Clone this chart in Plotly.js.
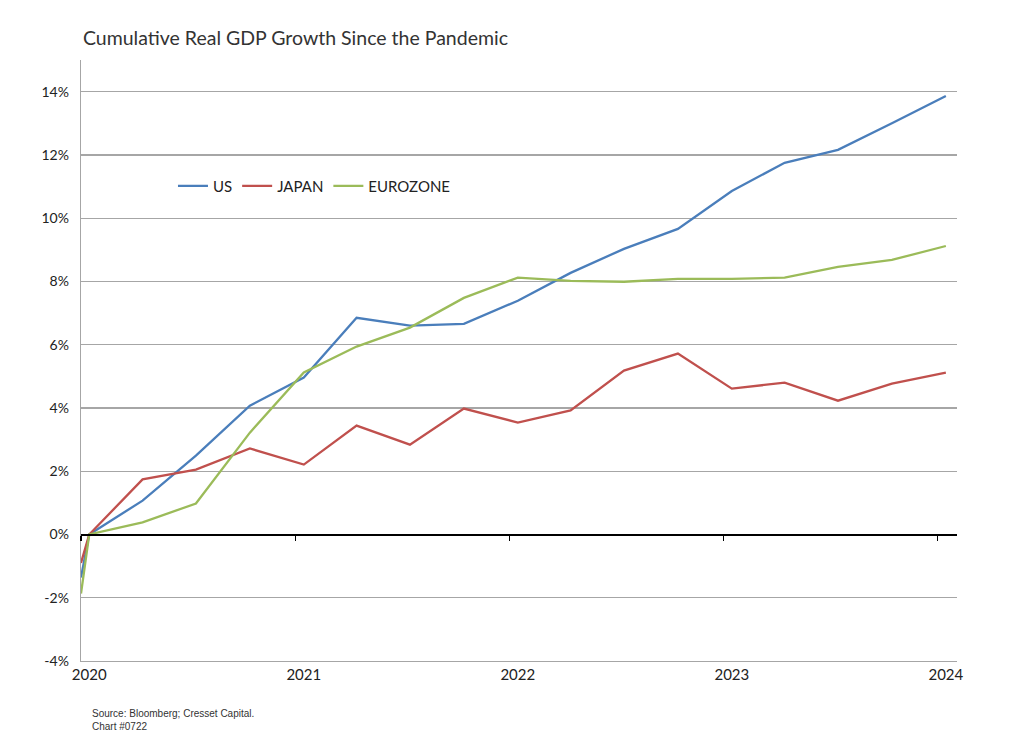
<!DOCTYPE html>
<html>
<head>
<meta charset="utf-8">
<script src="https://cdn.plot.ly/plotly-3.0.1.min.js"></script>
<style>html,body{margin:0;padding:0;background:#fff;}#chart{width:1024px;height:743px;}</style>
</head>
<body>
<div id="chart"></div>
<script>
const dates = ["2020-01-01","2020-01-15","2020-04-15","2020-07-15","2020-10-15","2021-01-15","2021-04-15","2021-07-15","2021-10-15","2022-01-15","2022-04-15","2022-07-15","2022-10-15","2023-01-15","2023-04-15","2023-07-15","2023-10-15","2024-01-15"];
const us = [-1.36,0,1.07,2.49,4.07,4.96,6.85,6.6,6.66,7.39,8.27,9.03,9.66,10.86,11.75,12.16,13.0,13.86];
const japan = [-0.9,0,1.74,2.05,2.72,2.21,3.44,2.84,3.98,3.54,3.92,5.18,5.72,4.61,4.8,4.23,4.77,5.12];
const eurozone = [-1.87,0,0.38,0.98,3.22,5.12,5.94,6.54,7.48,8.12,8.02,7.99,8.08,8.08,8.12,8.46,8.68,9.12];
const yearLabelDates = ["2020-01-15","2021-01-15","2022-01-15","2023-01-15","2024-01-15"];
const yearLabels = ["2020","2021","2022","2023","2024"];
const yearTickDates = ["2020-01-01","2021-01-01","2022-01-01","2023-01-01","2024-01-01"];
const yTickVals = [-4,-2,0,2,4,6,8,10,12,14];
const yTickText = ["-4%","-2%","0%","2%","4%","6%","8%","10%","12%","14%"];

const xRange = ["2020-01-01","2024-02-03"];
const yRange = [-4, 15];
const font = "Lato, 'Open Sans', sans-serif";

const traces = [
  {x: dates, y: us, name: "US", mode: "lines", line: {color: "#4a7ebb", width: 2.3}},
  {x: dates, y: japan, name: "JAPAN", mode: "lines", line: {color: "#c0504d", width: 2.3}},
  {x: dates, y: eurozone, name: "EUROZONE", mode: "lines", line: {color: "#9bbb59", width: 2.3}},
  {x: [], y: [], xaxis: "x2", showlegend: false, hoverinfo: "skip"}
];

const layout = {
  width: 1024, height: 743,
  margin: {l: 81, r: 67, t: 60, b: 82},
  paper_bgcolor: "#fff", plot_bgcolor: "#fff",
  font: {family: font, color: "#333", size: 14},
  title: {text: "Cumulative Real GDP Growth Since the Pandemic", x: 0.081, xanchor: "left", y: 0.949, yanchor: "middle", font: {family: font, size: 19.5, color: "#333"}},
  showlegend: true,
  legend: {orientation: "h", x: 0.105, y: 0.79, xanchor: "left", yanchor: "middle", font: {family: font, size: 15, color: "#222"}, bgcolor: "rgba(0,0,0,0)", itemwidth: 30, tracegroupgap: 0},
  xaxis: {
    type: "date", range: xRange, tickvals: yearLabelDates, ticktext: yearLabels,
    showgrid: false, zeroline: false, showline: true, linecolor: "#a6a6a6", linewidth: 1.3,
    ticks: "", tickfont: {family: font, size: 15, color: "#222"}, fixedrange: true
  },
  xaxis2: {
    type: "date", range: xRange, overlaying: "x", anchor: "free", position: (0 - yRange[0]) / (yRange[1] - yRange[0]),
    tickvals: yearTickDates, showticklabels: false, ticks: "outside", ticklen: 5, tickwidth: 1.3, tickcolor: "#000",
    showgrid: false, zeroline: false, showline: true, linecolor: "#000", linewidth: 1.5
  },
  yaxis: {
    range: yRange, tickvals: yTickVals, ticktext: yTickText,
    showgrid: true, gridcolor: "#a6a6a6", gridwidth: 1.3,
    zeroline: false, showline: true, linecolor: "#a6a6a6", linewidth: 1.3,
    ticks: "", ticklabelstandoff: 8, tickfont: {family: font, size: 14, color: "#222"}
  },
  annotations: [
    {text: "Source: Bloomberg; Cresset Capital.<br>Chart #0722", xref: "paper", yref: "paper", x: 0.01, y: -0.075, xanchor: "left", yanchor: "top", align: "left", showarrow: false, font: {family: "'Liberation Sans', sans-serif", size: 10, color: "#333"}}
  ]
};

Plotly.newPlot("chart", traces, layout, {displayModeBar: false, staticPlot: true});
</script>
</body>
</html>
